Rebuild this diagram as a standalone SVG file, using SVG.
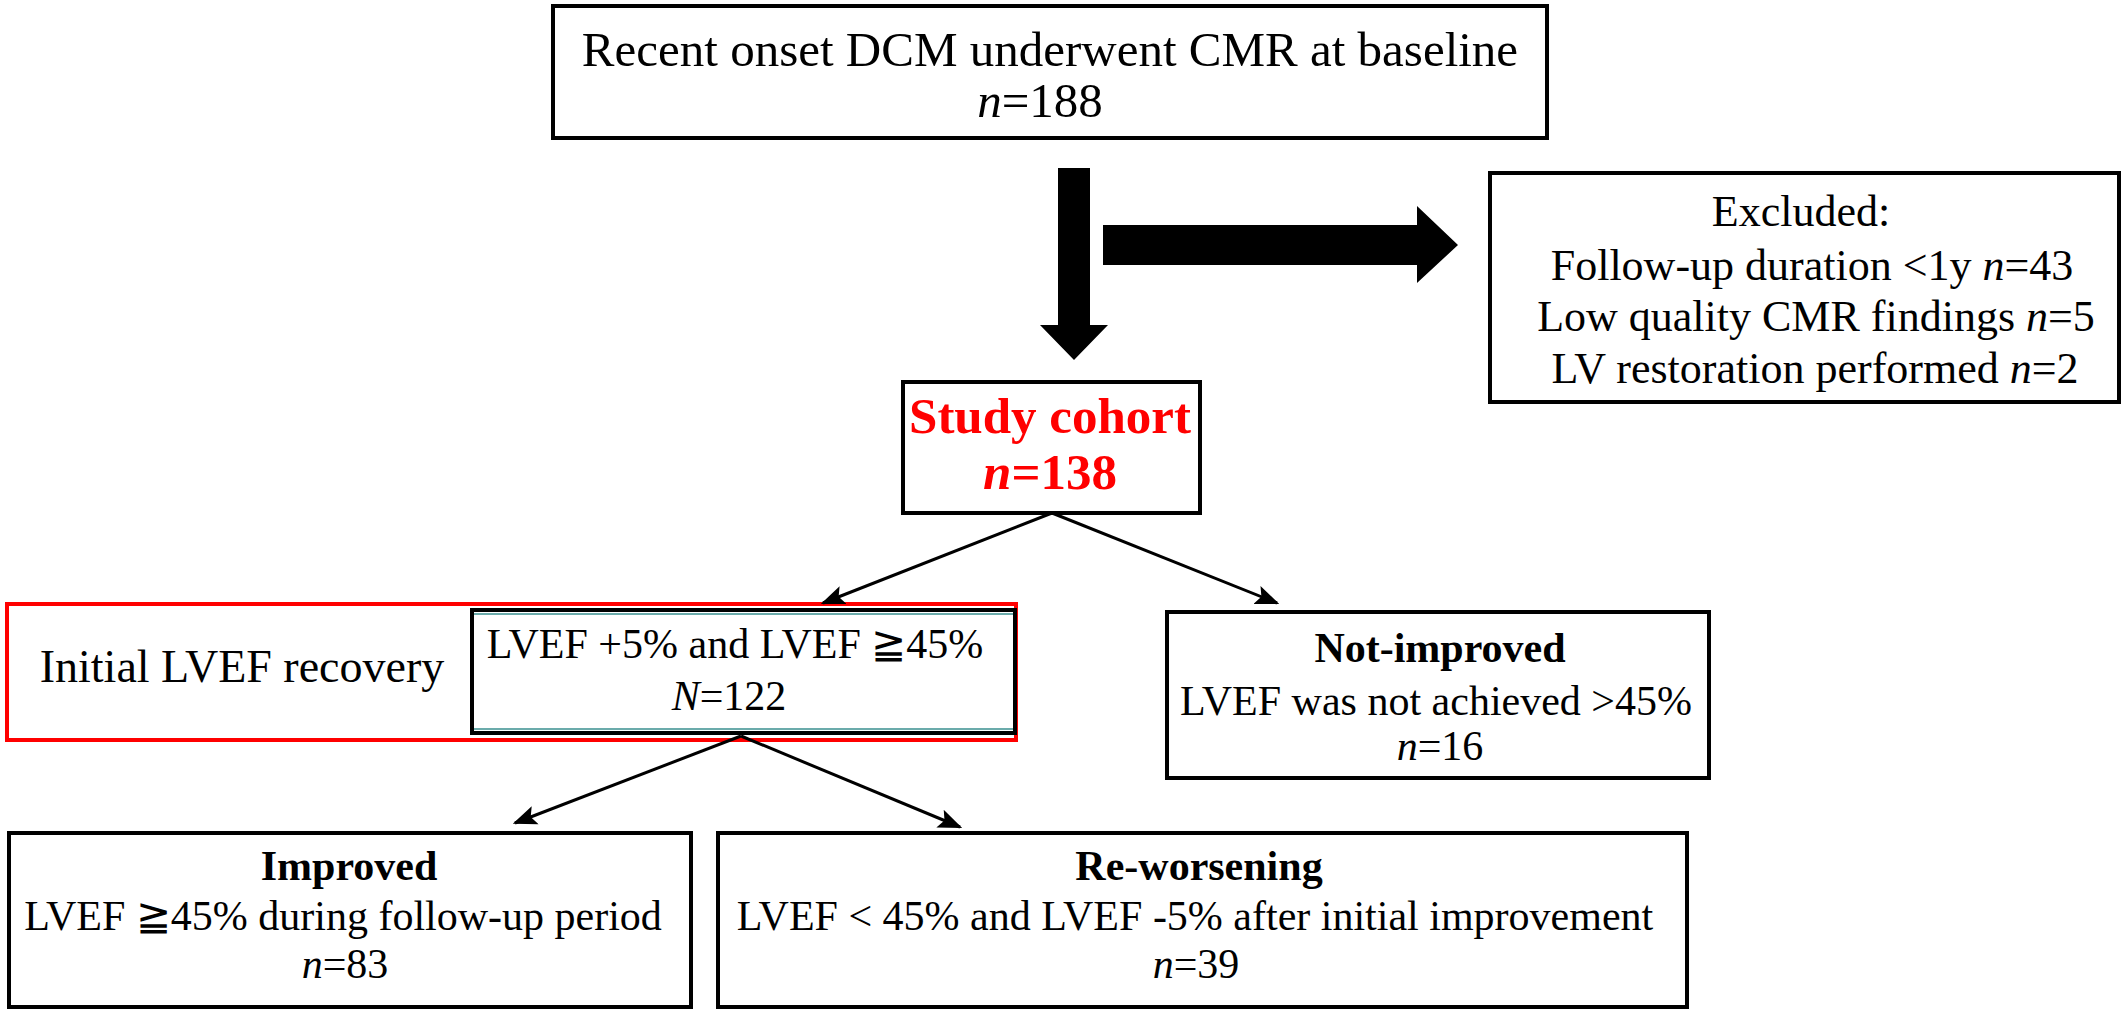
<svg xmlns="http://www.w3.org/2000/svg" width="2128" height="1014" viewBox="0 0 2128 1014">
<defs>
<style>
.box{fill:#fff;stroke:#000;stroke-width:4}
.t{font-family:"Liberation Serif","Times New Roman",serif;font-size:42px;fill:#000;text-anchor:middle}
.b{font-weight:bold}
.red{fill:#f00}
.i{font-style:italic}
.ln{stroke:#000;stroke-width:3;fill:none}
</style>
<marker id="ah" viewBox="0 0 10 10" refX="9" refY="5" markerWidth="8" markerHeight="8" orient="auto">
<path d="M0,1 L10,5 L0,9 L2,5 z" fill="#000"/>
</marker>
</defs>
<rect width="2128" height="1014" fill="#fff"/>

<g id="baseline">
<rect class="box" x="553" y="6" width="994" height="132"/>
<text class="t" x="1050" y="66" style="font-size:49px">Recent onset DCM underwent CMR at baseline</text>
<text class="t" x="1040" y="117" style="font-size:49px"><tspan class="i">n</tspan>=188</text>
</g>

<g id="excluded">
<rect class="box" x="1490" y="173" width="629" height="229"/>
<g style="font-size:44px">
<text class="t" x="1801" y="226" style="font-size:44px">Excluded:</text>
<text class="t" x="1812" y="280" style="font-size:44px">Follow-up duration &lt;1y <tspan class="i">n</tspan>=43</text>
<text class="t" x="1816" y="331" style="font-size:44px">Low quality CMR findings <tspan class="i">n</tspan>=5</text>
<text class="t" x="1815" y="383" style="font-size:44px">LV restoration performed <tspan class="i">n</tspan>=2</text>
</g>
</g>

<g id="cohort">
<rect class="box" x="903" y="382" width="297" height="131"/>
<text class="t b red" x="1050" y="433" style="font-size:51px">Study cohort</text>
<text class="t b red" x="1050" y="489" style="font-size:51px"><tspan class="i">n</tspan>=138</text>
</g>

<g id="initial-recovery">
<rect x="7" y="604" width="1009" height="136" fill="none" stroke="#f00" stroke-width="4"/>
<rect class="box" x="472" y="610" width="543" height="123"/>
<line x1="474" y1="614" x2="1013" y2="614" stroke="#3a8f8f" stroke-width="1.5"/>
<line x1="474" y1="729" x2="1013" y2="729" stroke="#3a8f8f" stroke-width="1.5"/>
<text class="t" x="242" y="682" style="font-size:46px">Initial LVEF recovery</text>
<text class="t" x="735" y="658">LVEF +5% and LVEF ≧45%</text>
<text class="t" x="729" y="710"><tspan class="i">N</tspan>=122</text>
</g>

<g id="not-improved">
<rect class="box" x="1167" y="612" width="542" height="166"/>
<text class="t b" x="1440" y="662">Not-improved</text>
<text class="t" x="1436" y="715">LVEF was not achieved &gt;45%</text>
<text class="t" x="1440" y="760"><tspan class="i">n</tspan>=16</text>
</g>

<g id="improved">
<rect class="box" x="9" y="833" width="682" height="174"/>
<text class="t b" x="349" y="880">Improved</text>
<text class="t" x="343" y="930">LVEF ≧45% during follow-up period</text>
<text class="t" x="345" y="978"><tspan class="i">n</tspan>=83</text>
</g>

<g id="re-worsening">
<rect class="box" x="718" y="833" width="969" height="174"/>
<text class="t b" x="1199" y="880">Re-worsening</text>
<text class="t" x="1195" y="930">LVEF &lt; 45% and LVEF -5% after initial improvement</text>
<text class="t" x="1196" y="978"><tspan class="i">n</tspan>=39</text>
</g>

<g id="connectors">
<path d="M1058,168 H1090 V325 H1108 L1074,360 L1040,325 H1058 Z" fill="#000"/>
<path d="M1103,225 H1417 V206 L1458,245 L1417,283 V265 H1103 Z" fill="#000"/>
<line class="ln" x1="1052" y1="513" x2="823" y2="603" marker-end="url(#ah)"/>
<line class="ln" x1="1052" y1="513" x2="1277" y2="603" marker-end="url(#ah)"/>
<line class="ln" x1="741" y1="736" x2="515" y2="823" marker-end="url(#ah)"/>
<line class="ln" x1="741" y1="736" x2="960" y2="827" marker-end="url(#ah)"/>
</g>
</svg>
